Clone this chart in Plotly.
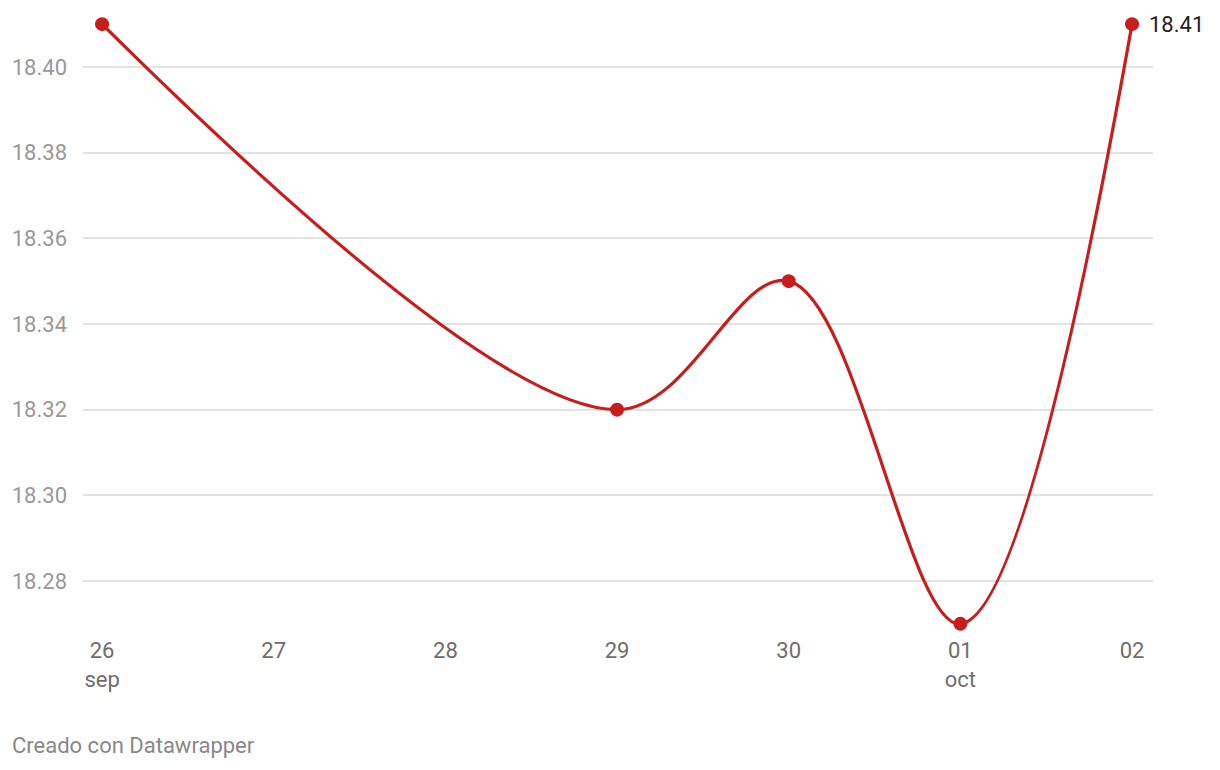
import plotly.graph_objects as go

dates = ["2025-09-26", "2025-09-29", "2025-09-30", "2025-10-01", "2025-10-02"]
values = [18.41, 18.32, 18.35, 18.27, 18.41]

tick_dates = ["2025-09-26", "2025-09-27", "2025-09-28", "2025-09-29",
              "2025-09-30", "2025-10-01", "2025-10-02"]
tick_text = ["26<br>sep", "27", "28", "29", "30", "01<br>oct", "02"]
y_ticks = [18.28, 18.30, 18.32, 18.34, 18.36, 18.38, 18.40]

RED = "#c71e1d"

fig = go.Figure()
fig.add_trace(
    go.Scatter(
        x=dates,
        y=values,
        mode="lines+markers",
        line=dict(color=RED, width=3.2, shape="spline", smoothing=1),
        marker=dict(color=RED, size=14),
        cliponaxis=False,
        hoverinfo="x+y",
    )
)

# value label on the last point
fig.add_annotation(
    x=dates[-1], y=values[-1], text=f"{values[-1]:.2f}",
    showarrow=False, xanchor="left", xshift=15,
    font=dict(family="Roboto", size=22, color="#222222"),
)

# credit line below the chart
fig.add_annotation(
    x=-0.0682, y=-0.1677, xref="paper", yref="paper",
    text="Creado con Datawrapper",
    showarrow=False, xanchor="left", yanchor="middle",
    font=dict(family="Roboto", size=22, color="#888888"),
)

fig.update_xaxes(
    type="date",
    range=["2025-09-25 21:20", "2025-10-02 02:56"],
    tickvals=tick_dates,
    ticktext=tick_text,
    showgrid=False,
    zeroline=False,
    showline=False,
    ticklabelstandoff=-5,
    tickfont=dict(family="Roboto", size=22, color="#6e6e6e"),
)
fig.update_yaxes(
    range=[18.26623, 18.41377],
    tickvals=y_ticks,
    ticktext=[f"{v:.2f}" for v in y_ticks],
    showgrid=True,
    gridcolor="#e3e3e3",
    gridwidth=1.5,
    zeroline=False,
    showline=False,
    ticklabelstandoff=15,
    tickfont=dict(family="Roboto", size=22, color="#999999"),
)
# page body adds an 8px offset, so the layout is shifted up-left by 8px
fig.update_layout(
    width=1220,
    height=770,
    margin=dict(l=75, r=75, t=0, b=138, autoexpand=False),
    plot_bgcolor="white",
    paper_bgcolor="white",
    showlegend=False,
    font=dict(family="Roboto"),
)

fig.write_html("out.html")
